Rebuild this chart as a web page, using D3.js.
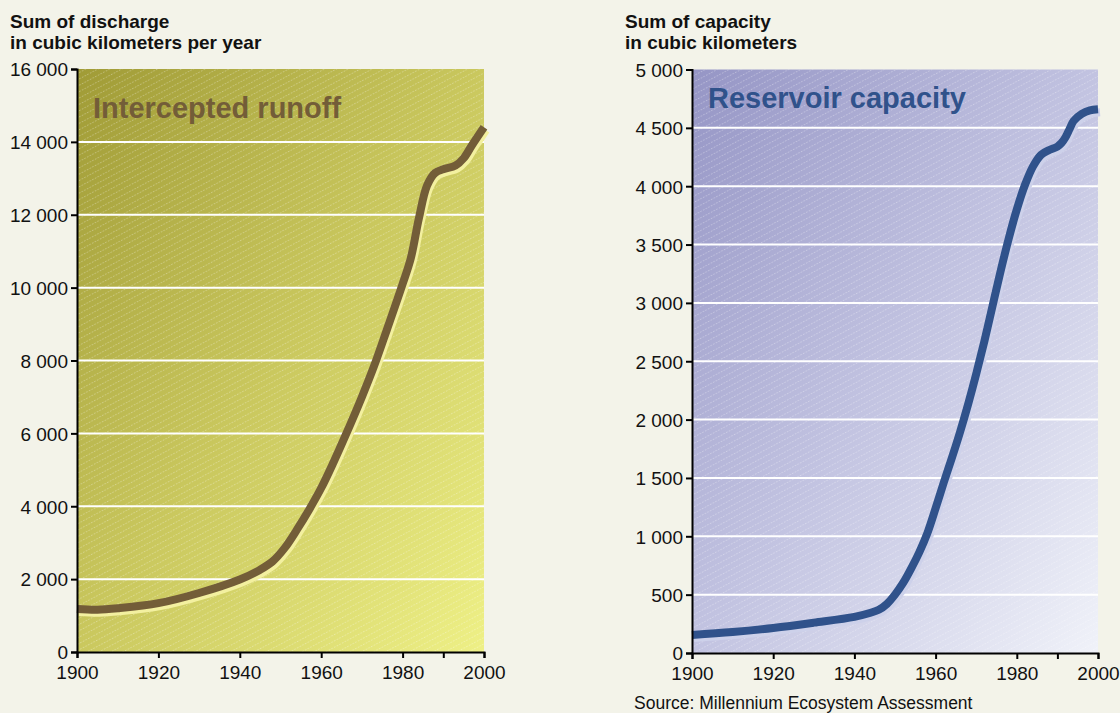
<!DOCTYPE html>
<html>
<head>
<meta charset="utf-8">
<script src="https://cdn.jsdelivr.net/npm/d3@7"></script>
<style>
  body { margin: 0; background: #f3f3e9; }
  svg text { font-family: "Liberation Sans", Arial, sans-serif; }
</style>
</head>
<body>
<div id="chart"></div>
<script>
const width = 1120;
const height = 713;

// intercepted runoff, sum of discharge in km3 per year
const runoffYears  = [1900, 1905, 1910, 1920, 1930, 1940, 1945, 1948, 1951, 1954, 1957, 1960, 1963, 1966, 1970, 1973, 1976, 1980, 1982, 1984, 1986, 1988, 1990, 1993, 1995, 1997, 2000];
const runoffValues = [1180, 1160, 1200, 1340, 1620, 1990, 2260, 2480, 2850, 3350, 3900, 4500, 5200, 5950, 7000, 7850, 8800, 10100, 10800, 11900, 12800, 13150, 13250, 13350, 13550, 13900, 14400];

// reservoir capacity, km3
const capacityYears  = [1900, 1910, 1920, 1930, 1940, 1944, 1946, 1948, 1950, 1952, 1954, 1956, 1958, 1960, 1962, 1964, 1966, 1968, 1970, 1972, 1974, 1976, 1978, 1980, 1982, 1984, 1986, 1988, 1990, 1991, 1992, 1993, 1994, 1996, 1998, 2000];
const capacityValues = [155, 180, 215, 260, 310, 345, 370, 420, 500, 600, 725, 865, 1030, 1240, 1460, 1670, 1890, 2130, 2390, 2670, 2970, 3270, 3550, 3800, 4010, 4170, 4270, 4310, 4340, 4370, 4420, 4490, 4560, 4620, 4650, 4660];

const yearTicks = [1900, 1920, 1940, 1960, 1980, 2000];
const yearMinorTicks = [1990];
const runoffTicks = [0, 2000, 4000, 6000, 8000, 10000, 12000, 14000, 16000];
const capacityTicks = [0, 500, 1000, 1500, 2000, 2500, 3000, 3500, 4000, 4500, 5000];

const svg = d3.select('#chart').append('svg')
  .attr('width', width)
  .attr('height', height);

const defs = svg.append('defs');

// thin dashed diagonal hatching laid over both backgrounds
const hatch = defs.append('pattern')
  .attr('id', 'hatch')
  .attr('patternUnits', 'userSpaceOnUse')
  .attr('width', 6)
  .attr('height', 5.6)
  .attr('patternTransform', 'rotate(-28)');
hatch.append('line')
  .attr('x1', 0).attr('y1', 0.5)
  .attr('x2', 6).attr('y2', 0.5)
  .attr('stroke', '#fff')
  .attr('stroke-opacity', 0.4)
  .attr('stroke-width', 0.8)
  .attr('stroke-dasharray', '1.5 1.5');

function addGradient(id, from, mid, to) {
  const g = defs.append('linearGradient')
    .attr('id', id)
    .attr('x1', 0).attr('y1', 0)
    .attr('x2', 1).attr('y2', 1);
  g.append('stop').attr('offset', '0%').attr('stop-color', from);
  g.append('stop').attr('offset', '50%').attr('stop-color', mid);
  g.append('stop').attr('offset', '100%').attr('stop-color', to);
}
addGradient('bgRunoff', '#a09b36', '#cac85e', '#eef086');
addGradient('bgCapacity', '#9595c5', '#c2c3e1', '#f0f2f9');

const fmt = v => d3.format(',')(v).replace(/,/g, ' ');

function drawPanel(p) {
  const x = d3.scaleLinear().domain([1900, 2000]).range([p.left, p.right]);
  const y = d3.scaleLinear().domain([0, p.max]).range([p.bottom, p.top]);
  const g = svg.append('g');

  g.append('rect')
    .attr('x', p.left).attr('y', p.top)
    .attr('width', p.right - p.left).attr('height', p.bottom - p.top)
    .attr('fill', `url(#${p.bg})`);
  g.append('rect')
    .attr('x', p.left).attr('y', p.top)
    .attr('width', p.right - p.left).attr('height', p.bottom - p.top)
    .attr('fill', 'url(#hatch)');

  // white grid lines
  g.append('g')
    .selectAll('line')
    .data(p.ticks.filter(t => t > 0 && t < p.max))
    .enter().append('line')
      .attr('x1', p.left).attr('x2', p.right)
      .attr('y1', d => y(d)).attr('y2', d => y(d))
      .attr('stroke', '#fff')
      .attr('stroke-width', 2);

  g.append('text')
    .attr('x', p.labelX).attr('y', p.labelY)
    .attr('font-size', 29)
    .attr('font-weight', 'bold')
    .attr('fill', p.color)
    .text(p.label);

  const pts = p.years.map((yr, i) => [yr, p.values[i]]);
  const line = d3.line()
    .x(d => x(d[0]))
    .y(d => y(d[1]))
    .curve(d3.curveCatmullRom.alpha(0.5));

  g.append('path')
    .attr('d', line(pts))
    .attr('transform', 'translate(2,3)')
    .attr('fill', 'none')
    .attr('stroke', p.shadow)
    .attr('stroke-width', 8);
  g.append('path')
    .attr('d', line(pts))
    .attr('fill', 'none')
    .attr('stroke', p.color)
    .attr('stroke-width', 8);

  // axes
  const yAxis = g.append('g')
    .attr('transform', `translate(${p.left},0)`)
    .call(d3.axisLeft(y).tickValues(p.ticks).tickFormat(fmt).tickSize(6).tickPadding(3));
  const xAxis = g.append('g')
    .attr('transform', `translate(0,${p.bottom})`)
    .call(d3.axisBottom(x).tickValues(yearTicks.concat(yearMinorTicks))
      .tickFormat(d => yearMinorTicks.includes(d) ? '' : d).tickSize(6).tickPadding(6));

  [yAxis, xAxis].forEach(ax => {
    ax.select('.domain').attr('stroke', '#000').attr('stroke-width', 2);
    ax.selectAll('.tick line').attr('stroke', '#000').attr('stroke-width', 2);
    ax.selectAll('.tick text')
      .attr('fill', '#111')
      .attr('font-size', 19)
      .attr('font-family', '"Liberation Sans", Arial, sans-serif');
  });
  yAxis.selectAll('.tick text').attr('dy', '0.36em');
  xAxis.selectAll('.tick text').attr('dy', '0.8em');

  // axis title
  const title = g.append('text')
    .attr('x', p.titleX)
    .attr('font-size', 19)
    .attr('font-weight', 'bold')
    .attr('fill', '#111');
  p.title.forEach((t, i) => {
    title.append('tspan').attr('x', p.titleX).attr('y', 28 + i * 21).text(t);
  });
}

drawPanel({
  left: 77, right: 484, top: 69, bottom: 652, max: 16000,
  ticks: runoffTicks, years: runoffYears, values: runoffValues,
  bg: 'bgRunoff', color: '#735d38', shadow: '#f3f0a0',
  label: 'Intercepted runoff', labelX: 93, labelY: 118,
  title: ['Sum of discharge', 'in cubic kilometers per year'], titleX: 10
});

drawPanel({
  left: 692, right: 1098, top: 69.5, bottom: 653, max: 5000,
  ticks: capacityTicks, years: capacityYears, values: capacityValues,
  bg: 'bgCapacity', color: '#30528b', shadow: '#cdd1ea',
  label: 'Reservoir capacity', labelX: 708, labelY: 108,
  title: ['Sum of capacity', 'in cubic kilometers'], titleX: 625
});

svg.append('text')
  .attr('x', 634).attr('y', 709)
  .attr('font-size', 17.5)
  .attr('fill', '#111')
  .text('Source: Millennium Ecosystem Assessment');
</script>
</body>
</html>
